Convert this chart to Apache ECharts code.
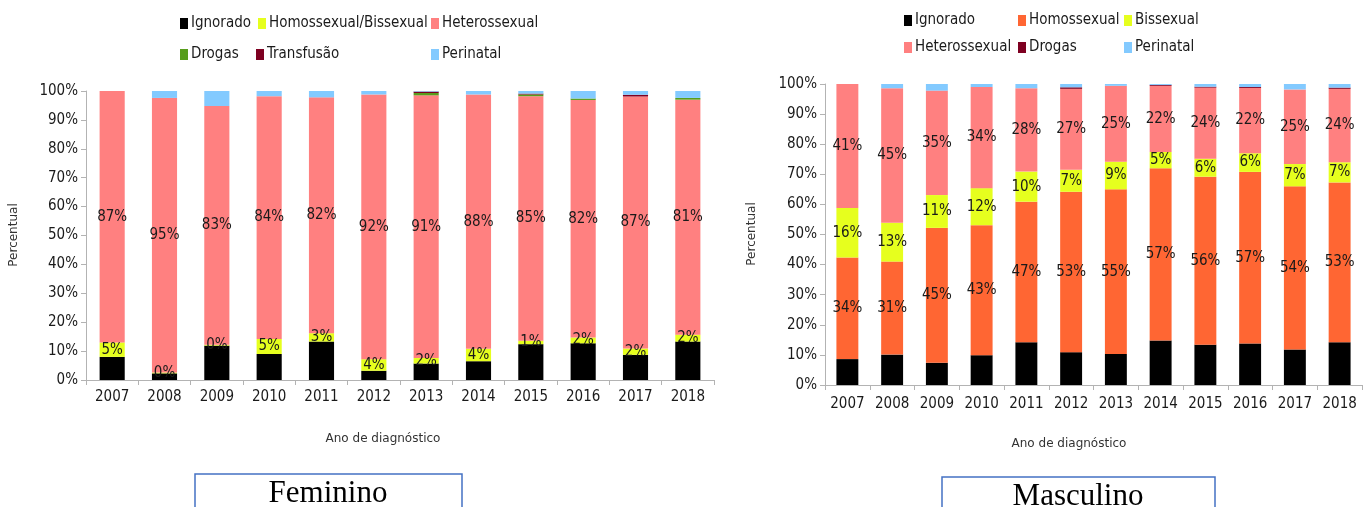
<!DOCTYPE html>
<html><head><meta charset="utf-8">
<script src="https://cdn.jsdelivr.net/npm/echarts@6/dist/echarts.min.js"></script>
<style>html,body{margin:0;padding:0;background:#fff}#c{width:1371px;height:507px}</style>
</head><body><div id="c"></div>
<script>
const years = ['2007','2008','2009','2010','2011','2012','2013','2014','2015','2016','2017','2018'];
const yTicks = [0,10,20,30,40,50,60,70,80,90,100];

// Feminino
const femIgnorado   = [8, 2.3, 11.9, 9, 13.3, 3.2, 5.7, 6.5, 12.4, 12.7, 8.7, 13.3];
const femHomoBi     = [5, 0.3, 0.3, 5.2, 2.9, 4, 1.9, 4.3, 1.2, 2, 2.2, 2.4];
const femHetero     = [87, 95, 82.6, 84, 81.6, 91.6, 90.9, 88, 84.6, 82.2, 87.2, 81.3];
const femDrogas     = [0, 0, 0, 0, 0, 0, 0.8, 0, 0.6, 0.5, 0, 0.6];
const femTransfusao = [0, 0, 0, 0, 0, 0, 0.5, 0, 0.3, 0, 0.6, 0];
const femPerinatal  = [0, 2.4, 5.2, 1.8, 2.2, 1.2, 0.2, 1.2, 0.9, 2.6, 1.3, 2.4];

// Masculino
const masIgnorado   = [8.6, 10.1, 7.4, 9.9, 14.2, 10.9, 10.3, 14.8, 13.4, 13.8, 11.8, 14.2];
const masHomo       = [33.8, 30.9, 44.8, 43.2, 46.7, 53.3, 54.7, 57.2, 55.8, 57.0, 54.2, 53.1];
const masBi         = [16.4, 12.9, 10.9, 12.3, 10.0, 7.3, 9.2, 5.4, 6.0, 6.2, 7.4, 6.7];
const masHetero     = [41.2, 44.7, 34.7, 33.6, 27.7, 26.9, 25.2, 22.0, 23.6, 21.7, 24.8, 24.4];
const masDrogas     = [0, 0, 0, 0, 0, 0.5, 0, 0.3, 0.3, 0.3, 0, 0.4];
const masPerinatal  = [0, 1.4, 2.2, 1.0, 1.4, 1.1, 0.6, 0.3, 0.9, 1.0, 1.8, 1.2];

const C = {
  ign: '#000000', homoBi: '#e6ff1e', homo: '#ff6633', bi: '#e6ff1e',
  hetero: '#ff8080', drogasF: '#579d1c', transf: '#7e0021', drogasM: '#7e0021', peri: '#83caff'
};
const FONT = "'Liberation Sans Narrow','DejaVu Sans Condensed','Liberation Sans',sans-serif";

const lbl = {show: true, position: 'inside', fontFamily: FONT, fontSize: 15, color: '#1a1a1a',
  formatter: p => Math.round(p.value) + '%'};

function bar(name, data, color, gi, stack, showLabel, bw) {
  return {name, type: 'bar', data, stack, xAxisIndex: gi, yAxisIndex: gi, barWidth: bw,
    itemStyle: {color}, label: showLabel ? lbl : {show: false}, emphasis: {disabled: true}};
}

function leg(name, color, left, top) {
  return {data: [{name, itemStyle: {color}}], left, top, icon: 'rect', itemWidth: 8, itemHeight: 11,
    selectedMode: false, padding: 0, itemGap: 4,
    textStyle: {fontFamily: FONT, fontSize: 15, color: '#1a1a1a', padding: [0,0,0,-2]}};
}

function xAx(gi, margin) {
  return {type: 'category', gridIndex: gi, data: years,
    axisLine: {lineStyle: {color: '#b3b3b3'}},
    axisTick: {show: true, length: 5, lineStyle: {color: '#b3b3b3'}},
    axisLabel: {fontFamily: FONT, fontSize: 15, color: '#1a1a1a', margin}};
}
function yAx(gi) {
  return {type: 'value', gridIndex: gi, min: 0, max: 100, interval: 10,
    axisLine: {show: true, lineStyle: {color: '#b3b3b3'}},
    axisTick: {show: true, length: 5, lineStyle: {color: '#b3b3b3'}},
    splitLine: {show: false},
    axisLabel: {fontFamily: FONT, fontSize: 15, color: '#1a1a1a', margin: 8, formatter: v => v + '%'}};
}

const chart = echarts.init(document.getElementById('c'), null, {renderer: 'canvas'});
chart.setOption({
  animation: false,
  backgroundColor: '#fff',
  grid: [
    {left: 86, right: 657, top: 91, bottom: 127},
    {left: 825, right: 9, top: 84, bottom: 122}
  ],
  xAxis: [xAx(0, 10), xAx(1, 12)],
  yAxis: [yAx(0), yAx(1)],
  legend: [
    leg('Ignorado', C.ign, 180, 16),
    leg('Homossexual/Bissexual', C.homoBi, 258, 16),
    leg('Heterossexual', C.hetero, 431, 16),
    leg('Drogas', C.drogasF, 180, 47),
    leg('Transfusão', C.transf, 256, 47),
    leg('Perinatal', C.peri, 431, 47),
    leg('Ignorado', C.ign, 904, 13),
    leg('Homossexual', C.homo, 1018, 13),
    leg('Bissexual', C.bi, 1124, 13),
    leg('Heterossexual', C.hetero, 904, 40),
    leg('Drogas', C.drogasM, 1018, 40),
    leg('Perinatal', C.peri, 1124, 40)
  ],
  series: [
    bar('Ignorado', femIgnorado, C.ign, 0, 'f', false, '48%'),
    bar('Homossexual/Bissexual', femHomoBi, C.homoBi, 0, 'f', true, '48%'),
    bar('Heterossexual', femHetero, C.hetero, 0, 'f', true, '48%'),
    bar('Drogas', femDrogas, C.drogasF, 0, 'f', false, '48%'),
    bar('Transfusão', femTransfusao, C.transf, 0, 'f', false, '48%'),
    bar('Perinatal', femPerinatal, C.peri, 0, 'f', false, '48%'),
    bar('Ignorado', masIgnorado, C.ign, 1, 'm', false, '49%'),
    bar('Homossexual', masHomo, C.homo, 1, 'm', true, '49%'),
    bar('Bissexual', masBi, C.bi, 1, 'm', true, '49%'),
    bar('Heterossexual', masHetero, C.hetero, 1, 'm', true, '49%'),
    bar('Drogas', masDrogas, C.drogasM, 1, 'm', false, '49%'),
    bar('Perinatal', masPerinatal, C.peri, 1, 'm', false, '49%')
  ],
  graphic: [
    {type: 'text', x: 14, y: 235, rotation: Math.PI/2,
      style: {text: 'Percentual', font: "12px 'DejaVu Sans', sans-serif", fill: '#333', align: 'center', verticalAlign: 'middle'}},
    {type: 'text', x: 752, y: 234, rotation: Math.PI/2,
      style: {text: 'Percentual', font: "12px 'DejaVu Sans', sans-serif", fill: '#333', align: 'center', verticalAlign: 'middle'}},
    {type: 'text', x: 383, y: 439,
      style: {text: 'Ano de diagnóstico', font: "12px 'DejaVu Sans', sans-serif", fill: '#333', align: 'center', verticalAlign: 'middle'}},
    {type: 'text', x: 1069, y: 444,
      style: {text: 'Ano de diagnóstico', font: "12px 'DejaVu Sans', sans-serif", fill: '#333', align: 'center', verticalAlign: 'middle'}},
    {type: 'rect', shape: {x: 195, y: 474, width: 267, height: 40},
      style: {fill: '#fff', stroke: '#4472c4', lineWidth: 1.5}},
    {type: 'text', x: 328, y: 494,
      style: {text: 'Feminino', font: "31px 'Liberation Serif', serif", fill: '#000', align: 'center', verticalAlign: 'middle'}},
    {type: 'rect', shape: {x: 942, y: 477, width: 273, height: 40},
      style: {fill: '#fff', stroke: '#4472c4', lineWidth: 1.5}},
    {type: 'text', x: 1078, y: 497,
      style: {text: 'Masculino', font: "31px 'Liberation Serif', serif", fill: '#000', align: 'center', verticalAlign: 'middle'}}
  ]
});
</script></body></html>
